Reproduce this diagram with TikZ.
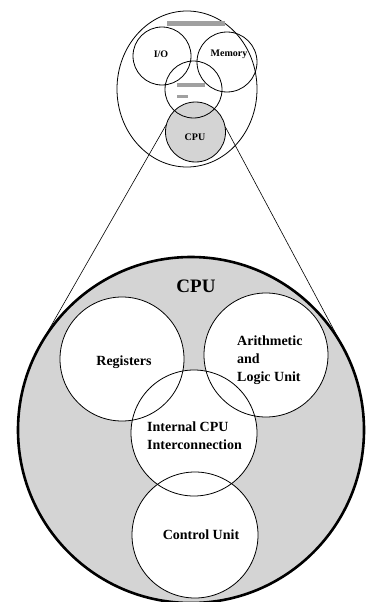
\documentclass[tikz,border=0pt]{standalone}
\usepackage{fontspec}
\setmainfont{Liberation Serif}
\usetikzlibrary{shapes.geometric,calc}
\definecolor{cpufill}{RGB}{212,212,212}
\definecolor{busgray}{RGB}{160,160,160}
\begin{document}
\begin{tikzpicture}[x=1pt,y=-1pt,
  disc/.style={circle,inner sep=0pt,minimum size=#1},
  ring/.style={line width=0.8pt},
  small/.style={font=\fontsize{10}{11}\selectfont\bfseries,inner sep=0pt},
  big/.style={font=\fontsize{14}{18}\selectfont\bfseries,inner sep=0pt,align=left},
  zoomline/.style={line width=0.6pt}]
\useasboundingbox (0,0) rectangle (365,602);

% ---- system overview (top) ----
\node[ellipse,draw,ring,inner sep=0pt,minimum width=140pt,minimum height=156pt] (system) at (187,89) {};
\node[disc=58pt] (io) at (162,56) {};
\node[disc=60pt] (mem) at (227,62) {};
\node[disc=57pt] (bus) at (193.5,89.5) {};
\node[disc=60pt,fill=cpufill] (scpu) at (195.5,132) {};
\foreach \n/\r in {io/29,mem/30,bus/28.5,scpu/30}
  \draw[ring] (\n.center) circle[radius=\r pt];
\fill[busgray] (167,21) rectangle (225,26);
\fill[busgray] (177,83) rectangle (205,87);
\fill[busgray] (177,95) rectangle (188,98);
\node[small] (iolbl) at (161,54) {I/O};
\node[small] (memlbl) at (229,54) {Memory};
\node[small] (scpulbl) at (195,137) {CPU};

% ---- enlarged CPU ----
\node[disc=346pt] (bigcpu) at (191,430) {};
\coordinate (tl) at (scpu.166);
\coordinate (tr) at (scpu.10);
\draw[zoomline] (tl) -- (tangent cs:node=bigcpu,point={(tl)},solution=1);
\draw[zoomline] (tr) -- (tangent cs:node=bigcpu,point={(tr)},solution=2);
\draw[line width=2.6pt,fill=cpufill] (bigcpu.center) circle[radius=173pt];

\node[disc=124pt,fill=white] (reg) at (122,359) {};
\node[disc=124pt,fill=white] (alu) at (266,355) {};
\node[disc=126pt,fill=white] (ici) at (194,433) {};
\node[disc=126pt,fill=white] (cu) at (195,535) {};
\foreach \n/\r in {reg/62,alu/62,ici/63,cu/63}
  \draw[ring] (\n.center) circle[radius=\r pt];

\node[font=\fontsize{19}{22}\selectfont\bfseries,inner sep=0pt] (cpulbl) at (196,286) {CPU};
\node[big] (reglbl) at (124,362) {Registers};
\node[big,anchor=west] (alulbl) at (237,360) {Arithmetic\\and\\Logic Unit};
\node[big,anchor=west] (icilbl) at (147,436) {Internal CPU\\Interconnection};
\node[big] (culbl) at (201,535) {Control Unit};
\end{tikzpicture}
\end{document}
